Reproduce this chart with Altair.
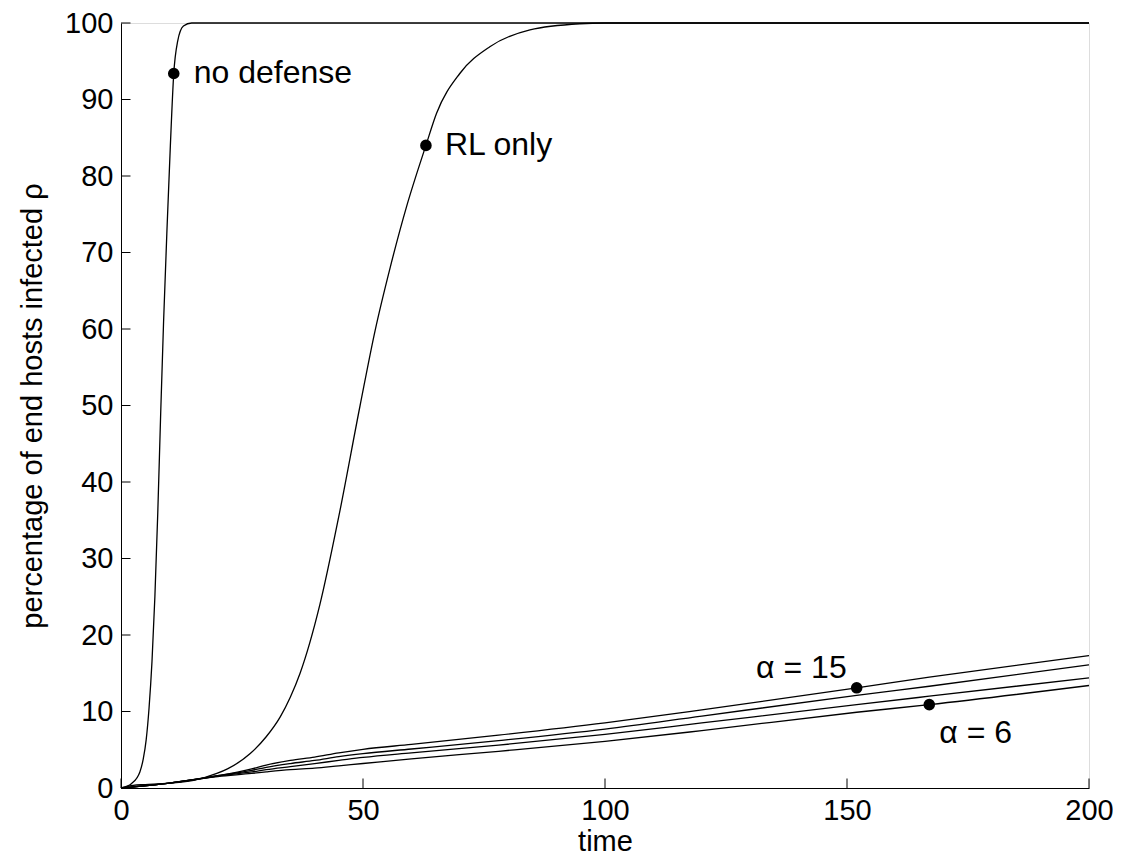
import altair as alt
import pandas as pd

# ---- data ----
nd_t = [0, 2.2, 3.9, 4.6, 5.2, 5.8, 6.4, 7.0, 7.6, 8.2, 8.8, 9.5, 10.2, 10.9, 11.7, 12.9, 14.6, 20, 200]
nd_y = [0, 0.6, 2.1, 3.8, 6.3, 10.5, 16.5, 25.0, 36.0, 49.0, 61.0, 73.0, 84.0, 93.4, 97.6, 99.6, 100, 100, 100]

rl_t = [0, 2.5, 5, 10, 12.9, 15, 19.8, 22, 26.7, 30, 32.9, 35, 37, 41.1, 45, 49.4, 52.5, 55.6, 59, 63, 65.2, 70, 76.2, 84.5, 94.8, 100, 200]
rl_y = [0, 0.35, 0.45, 0.65, 0.8, 1.0, 1.9, 2.5, 4.5, 6.7, 9.3, 11.9, 15.0, 24.0, 35.5, 50.0, 59.8, 68.0, 76.0, 84.0, 88.2, 93.4, 96.9, 99.1, 99.9, 100, 100]

a_t = [0, 10, 20, 27, 30, 35, 40, 45, 50, 60, 78, 100, 120, 152, 167, 200]
a15_y = [0, 0.65, 1.6, 2.5, 3.0, 3.6, 4.05, 4.6, 5.06, 5.7, 6.9, 8.5, 10.2, 13.1, 14.5, 17.3]
a12_y = [0, 0.65, 1.6, 2.3, 2.7, 3.2, 3.6, 4.1, 4.5, 5.1, 6.2, 7.7, 9.4, 12.1, 13.3, 16.1]
a9_y = [0, 0.65, 1.55, 2.1, 2.4, 2.8, 3.2, 3.6, 4.0, 4.6, 5.6, 7.0, 8.5, 10.9, 12.0, 14.4]
a6_y = [0, 0.65, 1.5, 1.9, 2.1, 2.4, 2.6, 2.9, 3.2, 3.8, 4.8, 6.1, 7.5, 9.9, 10.9, 13.4]

mark_names = ["no defense", "RL only", "α = 15", "α = 6"]
mark_t = [10.9, 63, 152, 167]
mark_y = [93.4, 84.0, 13.1, 10.9]

x_ticks = [0, 50, 100, 150, 200]
y_ticks = [0, 10, 20, 30, 40, 50, 60, 70, 80, 90, 100]

# ---- tables ----
rows = []
for name, ts, ys in [("nd", nd_t, nd_y), ("rl", rl_t, rl_y), ("a15", a_t, a15_y),
                     ("a12", a_t, a12_y), ("a9", a_t, a9_y), ("a6", a_t, a6_y)]:
    for t, y in zip(ts, ys):
        rows.append({"series": name, "t": t, "y": y})
lines_df = pd.DataFrame(rows)
marks_df = pd.DataFrame({"label": mark_names, "t": mark_t, "y": mark_y})
xt_df = pd.DataFrame({"t": x_ticks})
yt_df = pd.DataFrame({"y": y_ticks})

FONT = "Liberation Sans"
W, H = 968, 765
xs = alt.Scale(domain=[0, 200], nice=False, zero=False)
ys = alt.Scale(domain=[0, 100], nice=False, zero=False)

X = alt.X("t:Q", scale=xs, title="time",
          axis=alt.Axis(values=x_ticks, ticks=False, tickSize=0, grid=False, labelFlush=False,
                        labelFontSize=29, titleFontSize=29, labelPadding=8, titlePadding=2,
                        titleFontWeight="normal", domainColor="black", labelColor="black",
                        titleColor="black"))
Y = alt.Y("y:Q", scale=ys, title="percentage of end hosts infected ρ",
          axis=alt.Axis(values=y_ticks, ticks=False, tickSize=0, grid=False, labelFlush=False,
                        labelFontSize=29, titleFontSize=29, labelPadding=8, titlePadding=17,
                        titleFontWeight="normal", domainColor="black", labelColor="black",
                        titleColor="black"))

lines = alt.Chart(lines_df).mark_line(interpolate="monotone", color="black", strokeWidth=1.3).encode(
    x=X, y=Y, detail="series:N")

xticks = alt.Chart(xt_df).mark_rule(color="black", strokeWidth=1).encode(
    x=X, y=alt.value(H), y2=alt.value(H - 9.5))
yticks = alt.Chart(yt_df).mark_rule(color="black", strokeWidth=1).encode(
    y=Y, x=alt.value(0), x2=alt.value(9.5))

pts = alt.Chart(marks_df).mark_circle(size=135, color="black", opacity=1).encode(x=X, y=Y)

def label(name, dx, dy, align):
    return alt.Chart(marks_df).transform_filter(alt.datum.label == name).mark_text(
        font=FONT, fontSize=32, color="black", align=align, baseline="middle", dx=dx, dy=dy
    ).encode(x=X, y=Y, text="label:N")

chart = alt.layer(
    lines, xticks, yticks, pts,
    label("no defense", 20, 0, "left"),
    label("RL only", 19, 0, "left"),
    label("α = 15", -10, -20, "right"),
    label("α = 6", 10, 28, "left"),
).properties(
    width=W, height=H,
    autosize=alt.AutoSizeParams(type="none"),
    padding={"left": 113, "top": 15, "right": 24, "bottom": 67},
).configure_view(stroke=None).configure(font=FONT, background="white")

chart.save("out.html", embed_options={"renderer": "svg", "actions": False})
